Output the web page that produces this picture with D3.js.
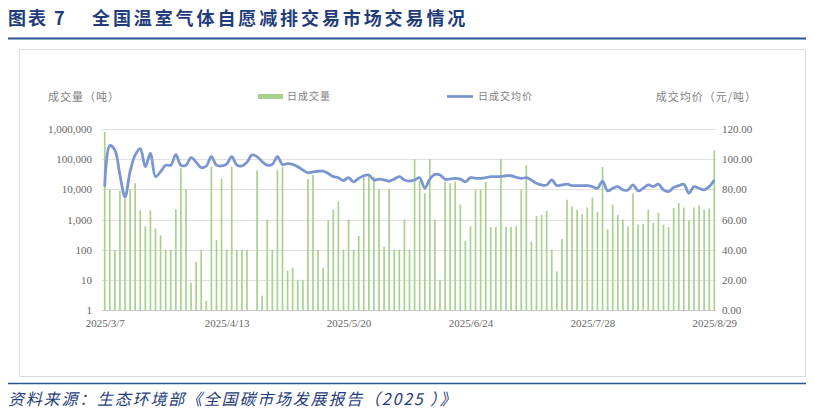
<!DOCTYPE html>
<html><head><meta charset="utf-8">
<script src="https://cdn.jsdelivr.net/npm/d3@7/dist/d3.min.js"></script>
<style>
html,body{margin:0;padding:0;background:#fff;}
svg{display:block;}
</style></head>
<body>
<svg id="chart" width="814" height="414"></svg>
<script>
const titlePrefix = "图表 7";
const titleText = "全国温室气体自愿减排交易市场交易情况";
const sourceText = "资料来源：生态环境部《全国碳市场发展报告（2025 ）》";
const leftAxisTitle = "成交量（吨）";
const rightAxisTitle = "成交均价（元/吨）";
const seriesNames = ["日成交量", "日成交均价"];
const tickIndex = [0, 24, 48, 72, 96, 120];
const tickLabels = ["2025/3/7", "2025/4/13", "2025/5/20", "2025/6/24", "2025/7/28", "2025/8/29"];
const leftTicks = [1, 10, 100, 1000, 10000, 100000, 1000000];
const rightTicks = [0, 20, 40, 60, 80, 100, 120];

const volumes = [
800000,10000,100,9000,5000,10000,16000,2000,600,2000,
500,300,100,100,2200,50000,10000,8,40,100,
2,56000,210,23000,100,56000,100,100,100,0,
43000,3,1000,100,43000,56000,20,25,10,10,
22000,30000,100,25,950,2100,4000,100,1000,100,
285,26000,30000,26000,10000,125,10000,100,100,1000,
100,100000,19000,7400,100000,1000,10,18000,16000,18000,
3100,195,600,10000,10000,18000,560,560,100000,560,
560,600,10000,63000,185,1300,1450,1950,100,19,
220,4500,2700,2100,1500,2500,5400,1800,55000,470,
3100,1450,1000,600,7400,680,720,2100,780,1650,
680,560,2400,3500,2500,950,2500,2900,2100,2300,
195000];

const prices = [
81.8,109,106,89.5,75,91.7,102.8,107,95,104,
88.4,91.7,96,96,103,96,96,101,98,94.4,
95.5,101.7,96,95.5,96.7,101.7,96,95.5,98,102.8,
101.7,98.3,96,96.5,101.7,96.5,97,96.5,95,92.8,
91,91.5,92,92,90.5,88.4,87.7,85.8,87.7,85,
87.3,89,89.5,86.2,86.8,86.2,85.5,86.8,88.4,86.2,
85.5,86.2,87.7,80.7,86.8,89.9,89.5,86.8,86.8,87.3,
86.8,85,87.7,87.3,87.3,87.7,88.4,88.4,88.4,89,
89,88,87.3,87.7,86.2,84,82.9,82.9,86.2,82.5,
82.9,83.4,82.5,82.5,82.5,82.5,81.8,80.7,85.5,79,
80.7,81.8,79.6,79.6,82.9,79,80.7,82.9,81.8,83.4,
79.6,78.5,81.2,82.5,83.4,77.5,81.8,80.7,79.6,81.8,
86.2];

const svg = d3.select("#chart");
const cjk = "'Noto Sans CJK SC', sans-serif";
const serif = "'Liberation Serif', 'DejaVu Serif', serif";
const plot = {left: 102, right: 716, top: 129, bottom: 310};
const idx = volumes.map((d, i) => i);

// title
svg.append("text").attr("x", 8).attr("y", 25)
  .attr("font-family", cjk).attr("font-weight", 700).attr("font-size", 18)
  .attr("letter-spacing", 2).attr("fill", "#1f3d7a").text(titlePrefix);
svg.append("text").attr("x", 92).attr("y", 25)
  .attr("font-family", cjk).attr("font-weight", 700).attr("font-size", 18)
  .attr("letter-spacing", 2.9).attr("fill", "#1f3d7a").text(titleText);
svg.append("line").attr("x1", 8).attr("x2", 806).attr("y1", 38.5).attr("y2", 38.5)
  .attr("stroke", "#2b5595").attr("stroke-width", 2);

// frame
svg.append("rect").attr("x", 19.5).attr("y", 49.5).attr("width", 786).attr("height", 327)
  .attr("fill", "none").attr("stroke", "#dcdcdc").attr("stroke-width", 1);

// footer
svg.append("line").attr("x1", 8).attr("x2", 806).attr("y1", 383.5).attr("y2", 383.5)
  .attr("stroke", "#2b5595").attr("stroke-width", 1.5);
svg.append("text").attr("x", 8).attr("y", 405)
  .attr("font-family", cjk).attr("font-style", "italic").attr("font-size", 16)
  .attr("letter-spacing", 1.8).attr("fill", "#1f3d7a").text(sourceText);

// scales
const x = d3.scalePoint().domain(idx).range([104.7, 714.3]);
const yL = d3.scaleLog().domain([1, 1000000]).range([plot.bottom, plot.top]);
const yR = d3.scaleLinear().domain([0, 120]).range([plot.bottom, plot.top]);

// gridlines
svg.append("g").selectAll("line").data(leftTicks.slice(1)).join("line")
  .attr("x1", plot.left).attr("x2", plot.right)
  .attr("y1", d => Math.round(yL(d)) + 0.5).attr("y2", d => Math.round(yL(d)) + 0.5)
  .attr("stroke", "#e0e0e0").attr("stroke-width", 1);

// bars
svg.append("g").selectAll("line").data(volumes.map((v, i) => ({v, i})).filter(d => d.v > 1)).join("line")
  .attr("x1", d => x(d.i)).attr("x2", d => x(d.i))
  .attr("y1", plot.bottom).attr("y2", d => yL(d.v))
  .attr("stroke", "#a9d18e").attr("stroke-width", 1.7);

// bottom axis line
svg.append("line").attr("x1", plot.left).attr("x2", plot.right)
  .attr("y1", plot.bottom + 0.5).attr("y2", plot.bottom + 0.5)
  .attr("stroke", "#c8c8c8").attr("stroke-width", 1);

// price line
const line = d3.line().x((d, i) => x(i)).y(d => yR(d)).curve(d3.curveCatmullRom.alpha(0.5));
svg.append("path").datum(prices).attr("d", line)
  .attr("fill", "none").attr("stroke", "#7a96d0").attr("stroke-width", 2.8)
  .attr("stroke-linejoin", "round");

// axes
const axL = svg.append("g").attr("transform", `translate(${plot.left},0)`)
  .call(d3.axisLeft(yL).tickValues(leftTicks).tickFormat(d3.format(",")).tickSize(0).tickPadding(10));
const axR = svg.append("g").attr("transform", `translate(${plot.right},0)`)
  .call(d3.axisRight(yR).tickValues(rightTicks).tickFormat(d3.format(".2f")).tickSize(0).tickPadding(6));
const axB = svg.append("g").attr("transform", `translate(0,${plot.bottom})`)
  .call(d3.axisBottom(x).tickValues(tickIndex).tickFormat((d, i) => tickLabels[i]).tickSize(0).tickPadding(9));
[axL, axR, axB].forEach(g => {
  g.select(".domain").remove();
  g.selectAll("text").attr("font-family", serif).attr("font-size", 11).attr("fill", "#666666");
});

// axis titles
svg.append("text").attr("x", 48).attr("y", 101).attr("font-family", cjk).attr("font-size", 11)
  .attr("fill", "#7f7f7f").attr("letter-spacing", 1).text(leftAxisTitle);
svg.append("text").attr("x", 757).attr("y", 101).attr("text-anchor", "end").attr("font-family", cjk).attr("font-size", 11)
  .attr("fill", "#7f7f7f").attr("letter-spacing", 1).text(rightAxisTitle);

// legend
const lg = svg.append("g");
lg.append("line").attr("x1", 258).attr("x2", 283).attr("y1", 96.5).attr("y2", 96.5)
  .attr("stroke", "#a9d18e").attr("stroke-width", 5);
lg.append("text").attr("x", 287).attr("y", 100).attr("font-family", cjk).attr("font-size", 10)
  .attr("fill", "#7f7f7f").attr("letter-spacing", 1).text(seriesNames[0]);
lg.append("line").attr("x1", 447).attr("x2", 473).attr("y1", 96.5).attr("y2", 96.5)
  .attr("stroke", "#7a96d0").attr("stroke-width", 2.8);
lg.append("text").attr("x", 478).attr("y", 100).attr("font-family", cjk).attr("font-size", 10)
  .attr("fill", "#7f7f7f").attr("letter-spacing", 1).text(seriesNames[1]);
</script>
</body></html>
